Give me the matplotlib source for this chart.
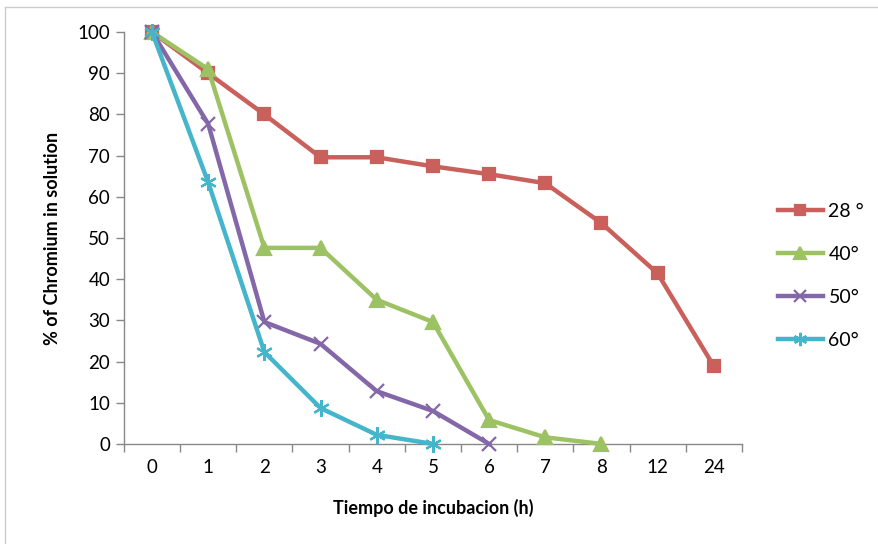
import matplotlib

matplotlib.use("Agg")
import matplotlib.pyplot as plt
from matplotlib.lines import Line2D

plt.rcParams["font.family"] = ["Lato", "DejaVu Sans"]

hours = ["0", "1", "2", "3", "4", "5", "6", "7", "8", "12", "24"]
temp_labels = ["28 °", "40°", "50°", "60°"]
chromium_28 = [100, 90, 80, 69.6, 69.6, 67.4, 65.5, 63.3, 53.6, 41.4, 18.9]
chromium_40 = [100, 91, 47.6, 47.6, 35, 29.6, 5.8, 1.6, 0]
chromium_50 = [100, 77.7, 29.6, 24.3, 12.8, 8, 0]
chromium_60 = [100, 63.5, 22.3, 8.7, 2.2, 0]

colors = ["#C9605B", "#9DC263", "#8467A8", "#45B5CC"]
markers = ["s", "^", "x", (6, 2, 0)]
marker_sizes = [9, 10, 10, 12]

fig = plt.figure(figsize=(8.79, 5.44), dpi=100)
ax = fig.add_axes([0.141, 0.184, 0.703, 0.757])

series = [chromium_28, chromium_40, chromium_50, chromium_60]
for values, color, marker, ms, label in zip(series, colors, markers, marker_sizes, temp_labels):
    xs = list(range(len(values)))
    ax.plot(xs, values, color=color, linewidth=3.2, marker=marker, markersize=ms,
            markeredgewidth=1.6, markeredgecolor=color, markerfacecolor=color,
            label=label, solid_joinstyle="round", clip_on=False, zorder=3)

ax.set_xlim(-0.5, len(hours) - 0.5)
ax.set_ylim(0, 100)
ax.set_yticks(range(0, 101, 10))
ax.set_xticks(range(len(hours)))
ax.set_xticklabels(hours)
ax.set_xticks([i - 0.5 for i in range(len(hours) + 1)], minor=True)
ax.tick_params(axis="x", which="major", length=0, pad=11, labelsize=13.5)
ax.tick_params(axis="x", which="minor", length=6, color="#888888", width=1)
ax.tick_params(axis="y", length=6, color="#888888", width=1, labelsize=13.5, pad=4)

for side in ("top", "right"):
    ax.spines[side].set_visible(False)
for side in ("left", "bottom"):
    ax.spines[side].set_color("#888888")
    ax.spines[side].set_linewidth(1)

ax.set_xlabel("Tiempo de incubacion (h)", fontsize=13, fontweight="bold", labelpad=16)
ax.set_ylabel("% of Chromium in solution", fontsize=13, fontweight="bold", labelpad=12)

ax.legend(loc="center left", bbox_to_anchor=(1.03, 0.408), frameon=False,
          fontsize=14, handlelength=2.3, labelspacing=1.35, handletextpad=0.3,
          markerscale=0.8)

# chart area border
fig.add_artist(Line2D([0.006, 0.006], [0.0, 0.987], color="#cccccc", linewidth=1))
fig.add_artist(Line2D([0.006, 1.0], [0.987, 0.987], color="#cccccc", linewidth=1))

fig.savefig("out.png", dpi=100)
